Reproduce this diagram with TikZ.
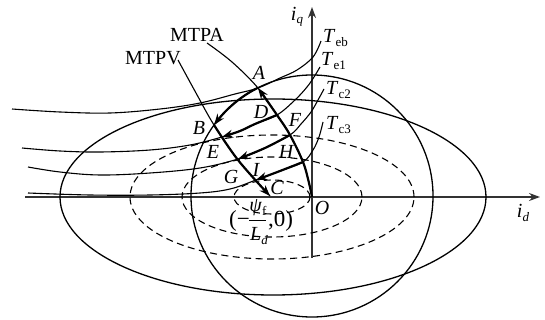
\documentclass[tikz,border=0pt]{standalone}
\usepackage{fontspec}
\setmainfont{Liberation Serif}
\usetikzlibrary{arrows.meta}
\newcommand{\lsub}[1]{\raisebox{-0.35ex}{\fontsize{13}{13}\selectfont #1}}
\begin{document}
\begin{tikzpicture}[x=1pt,y=-1pt,
  thincurve/.style={line width=1.1pt},
  limitline/.style={line width=1.3pt},
  dashline/.style={line width=1.1pt,dash pattern=on 7pt off 4.5pt},
  boldpath/.style={line width=2.2pt,-{Stealth[length=11pt,width=8pt]}},
  axisline/.style={line width=1.5pt,black!80,-{Stealth[length=11pt,width=8pt]}},
  lab/.style={font=\fontsize{20}{22}\selectfont\itshape,inner sep=0pt},
  rlab/.style={font=\fontsize{20}{22}\selectfont,inner sep=0pt},
  biglab/.style={font=\fontsize{23}{25}\selectfont,inner sep=0pt}
]
\useasboundingbox (0,0) rectangle (545,320);

% key points
\coordinate (O) at (312,197);
\coordinate (Ctr) at (272,197);
\coordinate (A) at (258,88);
\coordinate (B) at (214,125);
\coordinate (C) at (270,196);
\coordinate (D) at (277,115);
\coordinate (E) at (222,137);
\coordinate (F) at (290,135);
\coordinate (G) at (238,159);
\coordinate (H) at (303,162);
\coordinate (I) at (256,180);
\coordinate (Xl) at (25,197);
\coordinate (Xr) at (540,197);
\coordinate (Yb) at (312,258);
\coordinate (Yt) at (312,7);

% axes
\draw[axisline] (Xl) -- (Xr);
\draw[axisline] (Yb) -- (Yt);

% voltage limit ellipses
\draw[limitline] (273,197) ellipse [x radius=213pt, y radius=98pt];
\draw[dashline] (Ctr) ellipse [x radius=142pt, y radius=62pt];
\draw[dashline] (Ctr) ellipse [x radius=90pt, y radius=40pt];
\draw[dashline] (Ctr) ellipse [x radius=38pt, y radius=17pt];

% current limit circle
\draw[limitline] (312,196) circle [radius=121pt];

% torque curves
\draw[thincurve] plot[smooth,tension=0.6] coordinates {(12,109)(60,112)(110,113)(160,109)(200,103)(235,94)(258,88)(280,78)(297,70)(313,57)(321,41)};
\draw[thincurve] plot[smooth,tension=0.6] coordinates {(22,148)(60,151)(100,152)(150,150)(190,145)(222,137)(240,131)(255,124)(277,115)(295,100)(307,87)(314,77)(320,67)};
\draw[thincurve] plot[smooth,tension=0.6] coordinates {(28,167)(60,172)(100,175)(150,173)(200,168)(238,159)(265,148)(290,135)(301,124)(311,112)(318,100)(324,89)};
\draw[thincurve] plot[smooth,tension=0.6] coordinates {(28,193)(90,195)(150,195)(200,193)(230,189)(256,180)(280,171)(303,162)(313,150)(319,137)(323,122)};

% MTPA and MTPV curves (thin leader parts)
\draw[thincurve] plot[smooth,tension=0.6] coordinates {(207,43)(232,62)(258,88)(277,115)(290,135)(303,162)(309,183)(312,197)};
\draw[thincurve] plot[smooth,tension=0.6] coordinates {(178,60)(196,93)(214,125)(238,160)(270,196)};

% bold trajectories
\draw[boldpath] plot[smooth,tension=0.6] coordinates {(312,197)(309,183)(303,162)(290,135)(277,115)(258,88)};
\draw[boldpath] plot[domain=116.6:144,samples=25,variable=\t] ({312+121*cos(\t)},{196-121*sin(\t)});
\draw[boldpath] plot[smooth,tension=0.6] coordinates {(214,125)(238,160)(270,196)};
\draw[boldpath] plot[smooth,tension=0.6] coordinates {(277,115)(255,124)(240,131)(222,137)};
\draw[boldpath] plot[smooth,tension=0.6] coordinates {(290,135)(265,148)(238,159)};
\draw[boldpath] plot[smooth,tension=0.6] coordinates {(303,162)(280,171)(256,180)};

% point labels
\node[lab] (lA) at (259,73) {A};
\node[lab] (lB) at (199,128) {B};
\node[lab] (lC) at (277,188) {C};
\node[lab] (lD) at (261,112) {D};
\node[lab] (lE) at (213,152) {E};
\node[lab] (lF) at (295,120) {F};
\node[lab] (lG) at (231,177) {G};
\node[lab] (lH) at (286,152) {H};
\node[lab] (lI) at (256,170) {I};
\node[lab] (lO) at (322,208) {O};

% curve names
\node[rlab] (lMTPA) at (197,35) {MTPA};
\node[rlab] (lMTPV) at (153,58) {MTPV};
\node[rlab,anchor=west] (lTeb) at (323,38) {\textit{T}\lsub{eb}};
\node[rlab,anchor=west] (lTe1) at (321,61) {\textit{T}\lsub{e1}};
\node[rlab,anchor=west] (lTc2) at (326,90) {\textit{T}\lsub{c2}};
\node[rlab,anchor=west] (lTc3) at (326,125) {\textit{T}\lsub{c3}};

% axis labels
\node[rlab] (liq) at (297,17) {\textit{i}\lsub{\textit{q}}};
\node[rlab] (lid) at (523,213) {\textit{i}\lsub{\textit{d}}};

% centre label (-psi_f/L_d, 0)
\node[biglab,anchor=east] (lpar) at (250,221) {(−};
\node[rlab] (lnum) at (258,208) {\textit{ψ}\lsub{f}};
\node[rlab] (lden) at (259,236) {\textit{L}\lsub{\textit{d}}};
\coordinate (barL) at (249,220);
\coordinate (barR) at (266,220);
\draw[line width=0.9pt] (barL) -- (barR);
\node[biglab,anchor=west] (lzero) at (268,221) {,0)};
\end{tikzpicture}
\end{document}
